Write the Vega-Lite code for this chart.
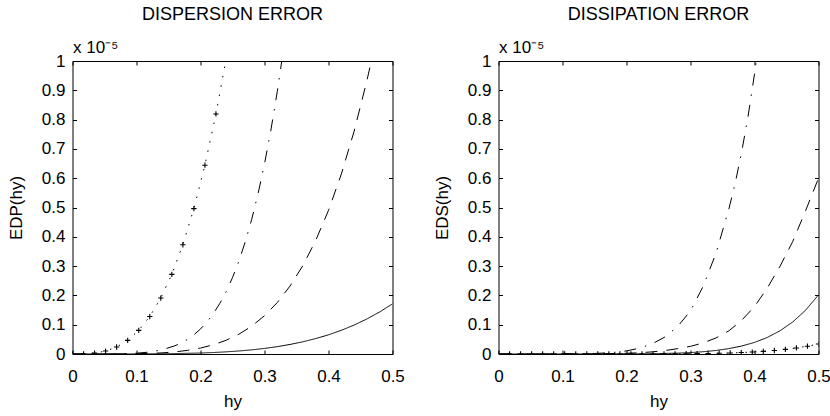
{
  "$schema": "https://vega.github.io/schema/vega-lite/v6.json",
  "padding": {"left": 6.5, "top": 5, "right": 0, "bottom": 2},
  "spacing": 28,
  "datasets": {
    "left": [
      {"hy": 0, "v": 0, "s": "dot"},
      {"hy": 0.017241, "v": 0.0004, "s": "dot"},
      {"hy": 0.034483, "v": 0.003, "s": "dot"},
      {"hy": 0.051724, "v": 0.0101, "s": "dot"},
      {"hy": 0.068966, "v": 0.0239, "s": "dot"},
      {"hy": 0.086207, "v": 0.0466, "s": "dot"},
      {"hy": 0.103448, "v": 0.0805, "s": "dot"},
      {"hy": 0.12069, "v": 0.1279, "s": "dot"},
      {"hy": 0.137931, "v": 0.1909, "s": "dot"},
      {"hy": 0.155172, "v": 0.2718, "s": "dot"},
      {"hy": 0.172414, "v": 0.3729, "s": "dot"},
      {"hy": 0.189655, "v": 0.4963, "s": "dot"},
      {"hy": 0.206897, "v": 0.6443, "s": "dot"},
      {"hy": 0.224138, "v": 0.8192, "s": "dot"},
      {"hy": 0.241379, "v": 1.0231, "s": "dot"},
      {"hy": 0, "v": 0, "s": "dashdot"},
      {"hy": 0.05, "v": 0.0001, "s": "dashdot"},
      {"hy": 0.08, "v": 0.0009, "s": "dashdot"},
      {"hy": 0.1, "v": 0.0027, "s": "dashdot"},
      {"hy": 0.12, "v": 0.0066, "s": "dashdot"},
      {"hy": 0.14, "v": 0.0144, "s": "dashdot"},
      {"hy": 0.16, "v": 0.028, "s": "dashdot"},
      {"hy": 0.17, "v": 0.0379, "s": "dashdot"},
      {"hy": 0.18, "v": 0.0505, "s": "dashdot"},
      {"hy": 0.19, "v": 0.0661, "s": "dashdot"},
      {"hy": 0.2, "v": 0.0854, "s": "dashdot"},
      {"hy": 0.21, "v": 0.109, "s": "dashdot"},
      {"hy": 0.22, "v": 0.1376, "s": "dashdot"},
      {"hy": 0.23, "v": 0.1719, "s": "dashdot"},
      {"hy": 0.24, "v": 0.2126, "s": "dashdot"},
      {"hy": 0.25, "v": 0.2607, "s": "dashdot"},
      {"hy": 0.26, "v": 0.3172, "s": "dashdot"},
      {"hy": 0.27, "v": 0.3831, "s": "dashdot"},
      {"hy": 0.28, "v": 0.4595, "s": "dashdot"},
      {"hy": 0.29, "v": 0.5477, "s": "dashdot"},
      {"hy": 0.3, "v": 0.6488, "s": "dashdot"},
      {"hy": 0.31, "v": 0.7644, "s": "dashdot"},
      {"hy": 0.32, "v": 0.8959, "s": "dashdot"},
      {"hy": 0.33, "v": 1.0449, "s": "dashdot"},
      {"hy": 0, "v": 0, "s": "dash"},
      {"hy": 0.05, "v": 0.00003, "s": "dash"},
      {"hy": 0.1, "v": 0.0008, "s": "dash"},
      {"hy": 0.12, "v": 0.0019, "s": "dash"},
      {"hy": 0.14, "v": 0.0039, "s": "dash"},
      {"hy": 0.16, "v": 0.0072, "s": "dash"},
      {"hy": 0.18, "v": 0.0125, "s": "dash"},
      {"hy": 0.2, "v": 0.0202, "s": "dash"},
      {"hy": 0.22, "v": 0.0314, "s": "dash"},
      {"hy": 0.24, "v": 0.0468, "s": "dash"},
      {"hy": 0.26, "v": 0.0676, "s": "dash"},
      {"hy": 0.28, "v": 0.095, "s": "dash"},
      {"hy": 0.3, "v": 0.1306, "s": "dash"},
      {"hy": 0.32, "v": 0.1757, "s": "dash"},
      {"hy": 0.34, "v": 0.2322, "s": "dash"},
      {"hy": 0.36, "v": 0.302, "s": "dash"},
      {"hy": 0.38, "v": 0.3873, "s": "dash"},
      {"hy": 0.4, "v": 0.4902, "s": "dash"},
      {"hy": 0.42, "v": 0.6137, "s": "dash"},
      {"hy": 0.44, "v": 0.7601, "s": "dash"},
      {"hy": 0.46, "v": 0.9328, "s": "dash"},
      {"hy": 0.47, "v": 1.0298, "s": "dash"},
      {"hy": 0, "v": 0, "s": "solid"},
      {"hy": 0.05, "v": 0.00001, "s": "solid"},
      {"hy": 0.1, "v": 0.0002, "s": "solid"},
      {"hy": 0.15, "v": 0.001, "s": "solid"},
      {"hy": 0.2, "v": 0.0033, "s": "solid"},
      {"hy": 0.22, "v": 0.005, "s": "solid"},
      {"hy": 0.24, "v": 0.0073, "s": "solid"},
      {"hy": 0.26, "v": 0.0103, "s": "solid"},
      {"hy": 0.28, "v": 0.0141, "s": "solid"},
      {"hy": 0.3, "v": 0.019, "s": "solid"},
      {"hy": 0.32, "v": 0.0251, "s": "solid"},
      {"hy": 0.34, "v": 0.0326, "s": "solid"},
      {"hy": 0.36, "v": 0.0417, "s": "solid"},
      {"hy": 0.38, "v": 0.0526, "s": "solid"},
      {"hy": 0.4, "v": 0.0655, "s": "solid"},
      {"hy": 0.42, "v": 0.0808, "s": "solid"},
      {"hy": 0.44, "v": 0.0987, "s": "solid"},
      {"hy": 0.46, "v": 0.1196, "s": "solid"},
      {"hy": 0.48, "v": 0.1436, "s": "solid"},
      {"hy": 0.5, "v": 0.1711, "s": "solid"}
    ],
    "right": [
      {"hy": 0, "v": 0, "s": "dot"},
      {"hy": 0.017241, "v": 0, "s": "dot"},
      {"hy": 0.034483, "v": 0, "s": "dot"},
      {"hy": 0.051724, "v": 0, "s": "dot"},
      {"hy": 0.068966, "v": 0, "s": "dot"},
      {"hy": 0.086207, "v": 0, "s": "dot"},
      {"hy": 0.103448, "v": 0, "s": "dot"},
      {"hy": 0.12069, "v": 0, "s": "dot"},
      {"hy": 0.137931, "v": 0, "s": "dot"},
      {"hy": 0.155172, "v": 0, "s": "dot"},
      {"hy": 0.172414, "v": 0, "s": "dot"},
      {"hy": 0.189655, "v": 0, "s": "dot"},
      {"hy": 0.206897, "v": 0.0001, "s": "dot"},
      {"hy": 0.224138, "v": 0.0001, "s": "dot"},
      {"hy": 0.241379, "v": 0.0002, "s": "dot"},
      {"hy": 0.258621, "v": 0.0003, "s": "dot"},
      {"hy": 0.275862, "v": 0.0005, "s": "dot"},
      {"hy": 0.293103, "v": 0.0008, "s": "dot"},
      {"hy": 0.310345, "v": 0.0012, "s": "dot"},
      {"hy": 0.327586, "v": 0.0018, "s": "dot"},
      {"hy": 0.344828, "v": 0.0025, "s": "dot"},
      {"hy": 0.362069, "v": 0.0035, "s": "dot"},
      {"hy": 0.37931, "v": 0.0049, "s": "dot"},
      {"hy": 0.396552, "v": 0.0067, "s": "dot"},
      {"hy": 0.413793, "v": 0.009, "s": "dot"},
      {"hy": 0.431034, "v": 0.012, "s": "dot"},
      {"hy": 0.448276, "v": 0.0158, "s": "dot"},
      {"hy": 0.465517, "v": 0.0206, "s": "dot"},
      {"hy": 0.482759, "v": 0.0266, "s": "dot"},
      {"hy": 0.5, "v": 0.034, "s": "dot"},
      {"hy": 0, "v": 0, "s": "dashdot"},
      {"hy": 0.1, "v": 0.0001, "s": "dashdot"},
      {"hy": 0.15, "v": 0.0016, "s": "dashdot"},
      {"hy": 0.18, "v": 0.0053, "s": "dashdot"},
      {"hy": 0.2, "v": 0.0106, "s": "dashdot"},
      {"hy": 0.22, "v": 0.0196, "s": "dashdot"},
      {"hy": 0.24, "v": 0.0345, "s": "dashdot"},
      {"hy": 0.26, "v": 0.0581, "s": "dashdot"},
      {"hy": 0.28, "v": 0.094, "s": "dashdot"},
      {"hy": 0.3, "v": 0.1472, "s": "dashdot"},
      {"hy": 0.32, "v": 0.232, "s": "dashdot"},
      {"hy": 0.34, "v": 0.345, "s": "dashdot"},
      {"hy": 0.36, "v": 0.495, "s": "dashdot"},
      {"hy": 0.37, "v": 0.585, "s": "dashdot"},
      {"hy": 0.38, "v": 0.69, "s": "dashdot"},
      {"hy": 0.39, "v": 0.812, "s": "dashdot"},
      {"hy": 0.4, "v": 0.9555, "s": "dashdot"},
      {"hy": 0.41, "v": 1.1217, "s": "dashdot"},
      {"hy": 0, "v": 0, "s": "dash"},
      {"hy": 0.1, "v": 0.00004, "s": "dash"},
      {"hy": 0.15, "v": 0.0004, "s": "dash"},
      {"hy": 0.2, "v": 0.0024, "s": "dash"},
      {"hy": 0.22, "v": 0.0043, "s": "dash"},
      {"hy": 0.24, "v": 0.0072, "s": "dash"},
      {"hy": 0.26, "v": 0.0117, "s": "dash"},
      {"hy": 0.28, "v": 0.0182, "s": "dash"},
      {"hy": 0.3, "v": 0.0262, "s": "dash"},
      {"hy": 0.32, "v": 0.038, "s": "dash"},
      {"hy": 0.34, "v": 0.055, "s": "dash"},
      {"hy": 0.36, "v": 0.079, "s": "dash"},
      {"hy": 0.38, "v": 0.115, "s": "dash"},
      {"hy": 0.4, "v": 0.162, "s": "dash"},
      {"hy": 0.42, "v": 0.225, "s": "dash"},
      {"hy": 0.44, "v": 0.3, "s": "dash"},
      {"hy": 0.46, "v": 0.385, "s": "dash"},
      {"hy": 0.48, "v": 0.49, "s": "dash"},
      {"hy": 0.5, "v": 0.6, "s": "dash"},
      {"hy": 0, "v": 0, "s": "solid"},
      {"hy": 0.2, "v": 0.0003, "s": "solid"},
      {"hy": 0.24, "v": 0.001, "s": "solid"},
      {"hy": 0.28, "v": 0.0029, "s": "solid"},
      {"hy": 0.3, "v": 0.0048, "s": "solid"},
      {"hy": 0.32, "v": 0.0078, "s": "solid"},
      {"hy": 0.34, "v": 0.0121, "s": "solid"},
      {"hy": 0.36, "v": 0.0184, "s": "solid"},
      {"hy": 0.38, "v": 0.0272, "s": "solid"},
      {"hy": 0.4, "v": 0.0395, "s": "solid"},
      {"hy": 0.42, "v": 0.0565, "s": "solid"},
      {"hy": 0.44, "v": 0.0794, "s": "solid"},
      {"hy": 0.46, "v": 0.1098, "s": "solid"},
      {"hy": 0.48, "v": 0.1498, "s": "solid"},
      {"hy": 0.5, "v": 0.2018, "s": "solid"}
    ]
  },
  "hconcat": [
    {
      "width": 320,
      "height": 293,
      "title": {"text": "DISPERSION ERROR", "offset": 15},
      "data": {"name": "left"},
      "resolve": {"axis": {"x": "independent", "y": "independent"}},
      "layer": [
        {
          "mark": {"type": "line", "color": "black", "strokeWidth": 1, "clip": true},
          "encoding": {
            "x": {"field": "hy", "type": "quantitative", "scale": {"domain": [0, 0.5], "nice": false},
              "axis": {"orient": "bottom", "title": "hy", "values": [0, 0.1, 0.2, 0.3, 0.4, 0.5], "format": "~g", "labelFlush": false, "tickSize": -4, "labelPadding": 18.5, "titlePadding": 9}},
            "y": {"field": "v", "type": "quantitative", "scale": {"domain": [0, 1], "nice": false},
              "axis": {"orient": "left", "title": "EDP(hy)", "values": [0, 0.1, 0.2, 0.3, 0.4, 0.5, 0.6, 0.7, 0.8, 0.9, 1], "format": "~g", "labelFlush": false, "tickSize": -4, "labelPadding": 11.5, "titlePadding": 16}},
            "strokeDash": {"field": "s", "type": "nominal", "legend": null,
              "scale": {"domain": ["dot", "dashdot", "dash", "solid"], "range": [[1.5, 8], [12, 9, 1.5, 9], [12, 9], [1, 0]]}}
          }
        },
        {
          "transform": [{"filter": "datum.s === 'dot'"}],
          "mark": {"type": "point", "shape": "M-1,0L1,0M0,-1L0,1", "size": 28, "filled": false, "stroke": "black", "strokeWidth": 1.1, "opacity": 1, "clip": true},
          "encoding": {
            "x": {"field": "hy", "type": "quantitative", "scale": {"domain": [0, 0.5], "nice": false},
              "axis": {"orient": "top", "title": "x 10⁻⁵", "labels": false, "values": [0, 0.1, 0.2, 0.3, 0.4, 0.5], "tickSize": -4, "titleAnchor": "start", "titleAlign": "left", "titlePadding": 4}},
            "y": {"field": "v", "type": "quantitative", "scale": {"domain": [0, 1], "nice": false},
              "axis": {"orient": "right", "title": null, "labels": false, "values": [0, 0.1, 0.2, 0.3, 0.4, 0.5, 0.6, 0.7, 0.8, 0.9, 1], "tickSize": -4}}
          }
        }
      ]
    },
    {
      "width": 320,
      "height": 293,
      "title": {"text": "DISSIPATION ERROR", "offset": 15},
      "data": {"name": "right"},
      "resolve": {"axis": {"x": "independent", "y": "independent"}},
      "layer": [
        {
          "mark": {"type": "line", "color": "black", "strokeWidth": 1, "clip": true},
          "encoding": {
            "x": {"field": "hy", "type": "quantitative", "scale": {"domain": [0, 0.5], "nice": false},
              "axis": {"orient": "bottom", "title": "hy", "values": [0, 0.1, 0.2, 0.3, 0.4, 0.5], "format": "~g", "labelFlush": false, "tickSize": -4, "labelPadding": 18.5, "titlePadding": 9}},
            "y": {"field": "v", "type": "quantitative", "scale": {"domain": [0, 1], "nice": false},
              "axis": {"orient": "left", "title": "EDS(hy)", "values": [0, 0.1, 0.2, 0.3, 0.4, 0.5, 0.6, 0.7, 0.8, 0.9, 1], "format": "~g", "labelFlush": false, "tickSize": -4, "labelPadding": 11.5, "titlePadding": 16}},
            "strokeDash": {"field": "s", "type": "nominal", "legend": null,
              "scale": {"domain": ["dot", "dashdot", "dash", "solid"], "range": [[1.5, 8], [12, 9, 1.5, 9], [12, 9], [1, 0]]}}
          }
        },
        {
          "transform": [{"filter": "datum.s === 'dot'"}],
          "mark": {"type": "point", "shape": "M-1,0L1,0M0,-1L0,1", "size": 28, "filled": false, "stroke": "black", "strokeWidth": 1.1, "opacity": 1, "clip": true},
          "encoding": {
            "x": {"field": "hy", "type": "quantitative", "scale": {"domain": [0, 0.5], "nice": false},
              "axis": {"orient": "top", "title": "x 10⁻⁵", "labels": false, "values": [0, 0.1, 0.2, 0.3, 0.4, 0.5], "tickSize": -4, "titleAnchor": "start", "titleAlign": "left", "titlePadding": 4}},
            "y": {"field": "v", "type": "quantitative", "scale": {"domain": [0, 1], "nice": false},
              "axis": {"orient": "right", "title": null, "labels": false, "values": [0, 0.1, 0.2, 0.3, 0.4, 0.5, 0.6, 0.7, 0.8, 0.9, 1], "tickSize": -4}}
          }
        }
      ]
    }
  ],
  "config": {
    "font": "Liberation Sans",
    "view": {"stroke": null},
    "axis": {"grid": false, "domainColor": "black", "domainWidth": 1, "tickColor": "black", "tickWidth": 1,
      "labelColor": "black", "titleColor": "black", "labelFont": "Liberation Sans", "titleFont": "Liberation Sans",
      "labelFontSize": 17, "titleFontSize": 17, "titleFontWeight": "normal"},
    "title": {"font": "Liberation Sans", "fontSize": 18, "fontWeight": "normal", "color": "black", "anchor": "middle"}
  }
}
